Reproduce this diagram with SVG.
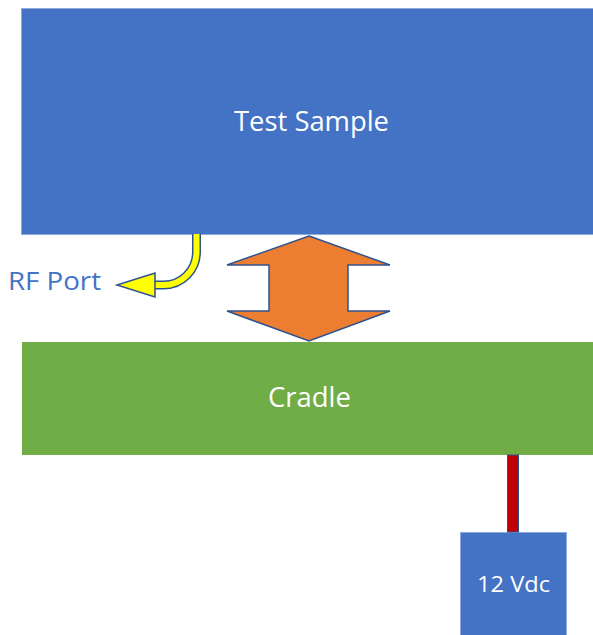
<svg xmlns="http://www.w3.org/2000/svg" width="593" height="635" viewBox="0 0 593 635">
  <style>
    .lbl { font-family: "Open Sans", "Liberation Sans", sans-serif; fill: #ffffff; text-anchor: middle; }
    .blue { fill: #4472c4; stroke: #8faadc; stroke-width: 1; }
    .green { fill: #70ad47; }
  </style>
  <rect x="0" y="0" width="593" height="635" fill="#ffffff"/>

  <g id="test-sample">
    <rect class="blue" x="21.5" y="8.5" width="580" height="226"/>
    <text class="lbl" x="311.5" y="131" font-size="27.5" textLength="155" lengthAdjust="spacingAndGlyphs">Test Sample</text>
  </g>

  <g id="cradle">
    <rect class="green" x="22" y="342" width="580" height="113"/>
    <text class="lbl" x="309.5" y="407" font-size="27.5" textLength="83" lengthAdjust="spacingAndGlyphs">Cradle</text>
  </g>

  <g id="power">
    <rect class="blue" x="460.5" y="532.5" width="106" height="110"/>
    <text class="lbl" x="513.5" y="592" font-size="22" textLength="73" lengthAdjust="spacingAndGlyphs">12 Vdc</text>
  </g>

  <g id="rf-port">
    <text x="8" y="290" font-family="Open Sans, Liberation Sans, sans-serif" font-size="26" fill="#4472c4" textLength="93" lengthAdjust="spacingAndGlyphs">RF Port</text>
  </g>

  <g id="connectors">
    <!-- double-headed mating arrow -->
    <polygon points="309,236 390,265 348,265 348,311 390,311 309,341 227,311 269,311 269,265 227,265"
             fill="#ed7d31" stroke="#2f528f" stroke-width="1.5" stroke-linejoin="miter"/>
    <!-- power lead -->
    <rect x="507.5" y="455" width="11" height="77" fill="#c00000" stroke="#2f528f" stroke-width="1"/>
    <!-- RF port curved arrow -->
    <path d="M196.5,234 V252 A33,33 0 0 1 163.5,285 H150" fill="none" stroke="#2f528f" stroke-width="9"/>
    <path d="M196.5,234 V252 A33,33 0 0 1 163.5,285 H150" fill="none" stroke="#ffff00" stroke-width="6"/>
    <polygon points="117,285 155,273 155,297" fill="#ffff00" stroke="#2f528f" stroke-width="1.5" stroke-linejoin="miter"/>
  </g>
</svg>
